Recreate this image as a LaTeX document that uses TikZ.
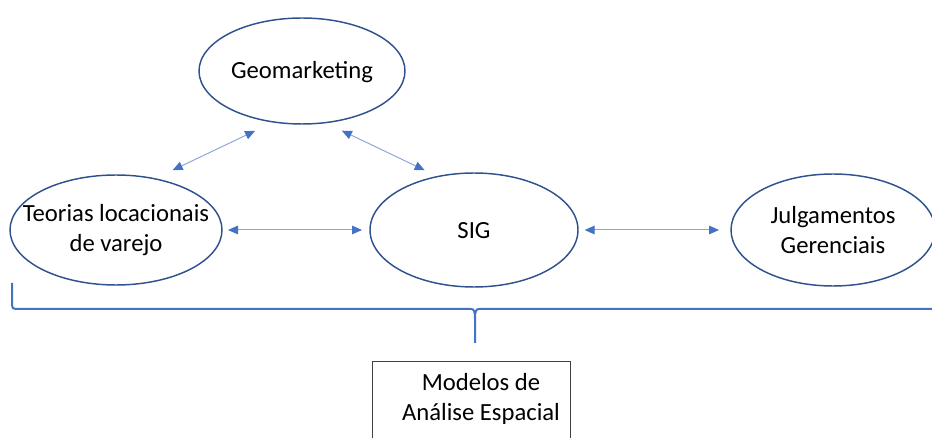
\documentclass[tikz,border=0pt]{standalone}
\usepackage{fontspec}
\setmainfont{Carlito}
\usetikzlibrary{arrows.meta,shapes.geometric}
\definecolor{elline}{HTML}{2F528F}
\definecolor{arrline}{HTML}{8FA7D6}
\definecolor{arrhead}{HTML}{4472C4}
\tikzset{
    elli/.style={draw=elline, line width=1.1pt, ellipse, inner sep=0pt, outer sep=0pt},
    txt/.style={align=center, font=\fontsize{18.5}{22}\selectfont},
    dblarr/.style={draw=arrline, line width=0.75pt,
        {Triangle[length=7.5pt,width=6.5pt,color=arrhead]}-{Triangle[length=7.5pt,width=6.5pt,color=arrhead]}}
}

\begin{document}
\begin{tikzpicture}[x=0.75pt,y=-0.75pt]
            \clip (0,0) rectangle (932,438);
            \useasboundingbox (0,0) rectangle (932,438);

            \foreach \n/\x/\y/\w/\h in {geo/302/71/206/106, teo/116/230/212/110, sig/474/230/208/114, jul/833/230/204/112} {
                \node[elli, minimum width=\w*0.75pt, minimum height=\h*0.75pt] (\n) at (\x,\y) {};
            }

            \node[txt] (geo-t) at (302,72) {Geomarketing};
            \node[txt] (teo-t) at (116,230) {Teorias locacionais\\de varejo};
            \node[txt] (sig-t) at (474,231) {SIG};
            \node[txt] (jul-t) at (833,230) {Julgamentos\\Gerenciais};

            \draw[dblarr, shorten <=4.5pt, shorten >=6pt] (teo) -- (sig);
            \draw[dblarr, shorten <=5pt, shorten >=9pt] (sig) -- (jul);
            \draw[dblarr, shorten <=15pt, shorten >=15.5pt] (teo.53) -- (geo.241);
            \draw[dblarr, shorten <=14pt, shorten >=11pt] (geo.294) -- (sig.124);

            % chave
            \draw[arrhead, line width=1.5pt]
                (12,283) -- (12,305) .. controls (12,308) and (13,309) .. (16,309)
                -- (471,309) .. controls (474,309) and (475,311) .. (475,319) -- (475,343);
            \draw[arrhead, line width=1.5pt]
                (475,319) .. controls (475,311) and (476,309) .. (479,309) -- (940,309);

            \node[draw=black!75, line width=0.6pt, minimum width=148.5pt, minimum height=75pt, anchor=north] (mod) at (471,361) {};
            \node[txt] (mod-t) at (481,399) {Modelos de\\Análise Espacial};
        \end{tikzpicture}
\end{document}
